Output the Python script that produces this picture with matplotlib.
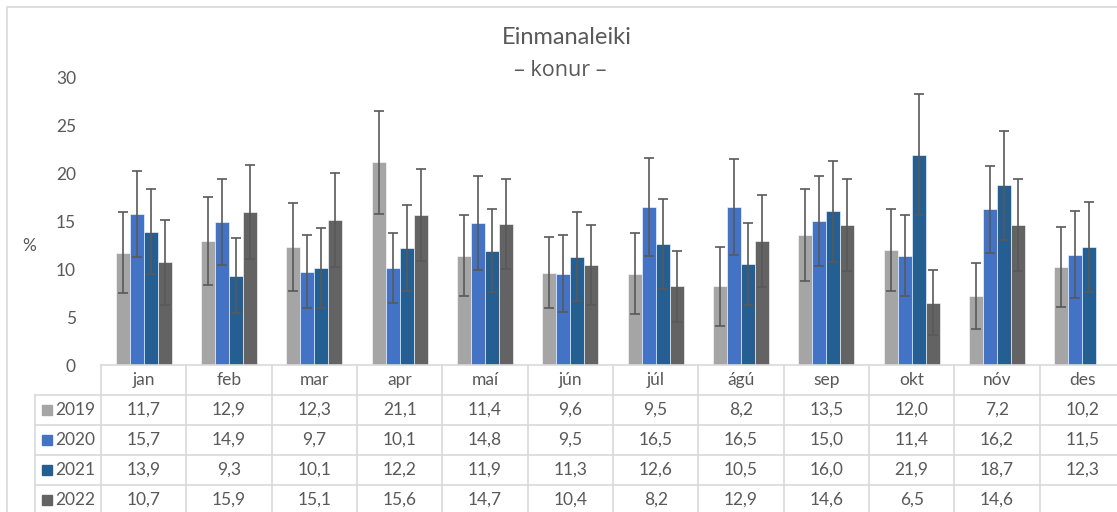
import numpy as np
import matplotlib.pyplot as plt
from matplotlib.patches import Rectangle
from matplotlib.lines import Line2D

plt.rcParams['font.family'] = ['Lato', 'DejaVu Sans']

months = ['jan', 'feb', 'mar', 'apr', 'maí', 'jún', 'júl', 'ágú', 'sep', 'okt', 'nóv', 'des']
years = ['2019', '2020', '2021', '2022']

v2019 = [11.7, 12.9, 12.3, 21.1, 11.4, 9.6, 9.5, 8.2, 13.5, 12.0, 7.2, 10.2]
v2020 = [15.7, 14.9, 9.7, 10.1, 14.8, 9.5, 16.5, 16.5, 15.0, 11.4, 16.2, 11.5]
v2021 = [13.9, 9.3, 10.1, 12.2, 11.9, 11.3, 12.6, 10.5, 16.0, 21.9, 18.7, 12.3]
v2022 = [10.7, 15.9, 15.1, 15.6, 14.7, 10.4, 8.2, 12.9, 14.6, 6.5, 14.6, np.nan]

# half-width of the error bars
e2019 = [4.2, 4.6, 4.6, 5.4, 4.2, 3.7, 4.2, 4.1, 4.8, 4.3, 3.4, 4.2]
e2020 = [4.5, 4.5, 3.8, 3.6, 4.9, 4.0, 5.1, 5.0, 4.7, 4.2, 4.5, 4.5]
e2021 = [4.4, 3.9, 4.2, 4.5, 4.3, 4.6, 4.7, 4.3, 5.3, 6.3, 5.7, 4.7]
e2022 = [4.4, 4.9, 4.9, 4.8, 4.7, 4.2, 3.7, 4.8, 4.8, 3.4, 4.8, np.nan]

values = [v2019, v2020, v2021, v2022]
errors = [e2019, e2020, e2021, e2022]
colors = ['#a5a5a5', '#4472c4', '#255e91', '#636363']

text_c = '#595959'
grid_c = '#d9d9d9'

W, H = 1117, 512
fig = plt.figure(figsize=(W / 100, H / 100), dpi=100)

# outer chart border
fig.patches.append(Rectangle((7 / W, -0.1), 1.2, (H - 7) / H + 0.1, transform=fig.transFigure,
                             fill=False, edgecolor=grid_c, linewidth=1.2))

ax_l, ax_r, ax_t, ax_b = 101, 1125, 77, 365
ax = fig.add_axes([ax_l / W, (H - ax_b) / H, (ax_r - ax_l) / W, (ax_b - ax_t) / H])

x = np.arange(len(months)) + 0.5
bw = 0.165
for k in range(4):
    xs = x + (k - 1.5) * bw
    ax.bar(xs, values[k], width=bw, color=colors[k], edgecolor='white', linewidth=0.4, zorder=2)
    ax.errorbar(xs, values[k], yerr=errors[k], fmt='none', ecolor='#595959',
                elinewidth=1.2, capsize=3.6, capthick=1.2, zorder=3)

ax.set_xlim(0, 12)
ax.set_ylim(0, 30)
ax.set_yticks(range(0, 31, 5))
ax.set_xticks([])
for s in ax.spines.values():
    s.set_visible(False)
ax.tick_params(axis='y', length=0, pad=18, labelsize=12.5, labelcolor=text_c)
ax.patch.set_alpha(0)

# data table under the plot
colw = (ax_r - ax_l) / 12
ph = ax_b - ax_t
row_h = 30
trans = ax.get_xaxis_transform()


def ay(py):
    return (ax_b - py) / ph


label_left = (35 - ax_l) / colw
for r in range(6):
    yy = ay(ax_b + r * row_h)
    x0 = 0 if r == 0 else label_left
    ax.add_line(Line2D([x0, 12.2], [yy, yy], transform=trans, color=grid_c, lw=1.2, clip_on=False))
for c in range(13):
    ax.add_line(Line2D([c, c], [ay(ax_b), ay(ax_b + 5 * row_h)], transform=trans,
                       color=grid_c, lw=1.2, clip_on=False))
ax.add_line(Line2D([label_left, label_left], [ay(ax_b + row_h), ay(ax_b + 5 * row_h)],
                   transform=trans, color=grid_c, lw=1.2, clip_on=False))

for i, m in enumerate(months):
    ax.text(x[i], ay(ax_b + row_h / 2), m, transform=trans, ha='center', va='center',
            fontsize=12.5, color=text_c, clip_on=False)

for k in range(4):
    yc = ay(ax_b + row_h * (k + 1.5))
    ax.plot([(47 - ax_l) / colw], [yc], marker='s', markersize=6.5, color=colors[k],
            transform=trans, clip_on=False)
    ax.text((95 - ax_l) / colw, yc, years[k], transform=trans, ha='right', va='center',
            fontsize=12.5, color=text_c, clip_on=False)
    for i in range(12):
        v = values[k][i]
        if np.isnan(v):
            continue
        ax.text(x[i], yc, f'{v:.1f}'.replace('.', ','), transform=trans, ha='center',
                va='center', fontsize=12.5, color=text_c, clip_on=False)

fig.text(29.5 / W, 1 - 246 / H, '%', ha='center', va='center', fontsize=12.5, color=text_c)
fig.text(567 / W, 1 - 38 / H, 'Einmanaleiki', ha='center', va='center', fontsize=17, color=text_c)
fig.text(560 / W, 1 - 70 / H, '– konur –', ha='center', va='center', fontsize=15.5,
         color=text_c, family=['Open Sans', 'DejaVu Sans'])

fig.savefig('out.png', dpi=100)
